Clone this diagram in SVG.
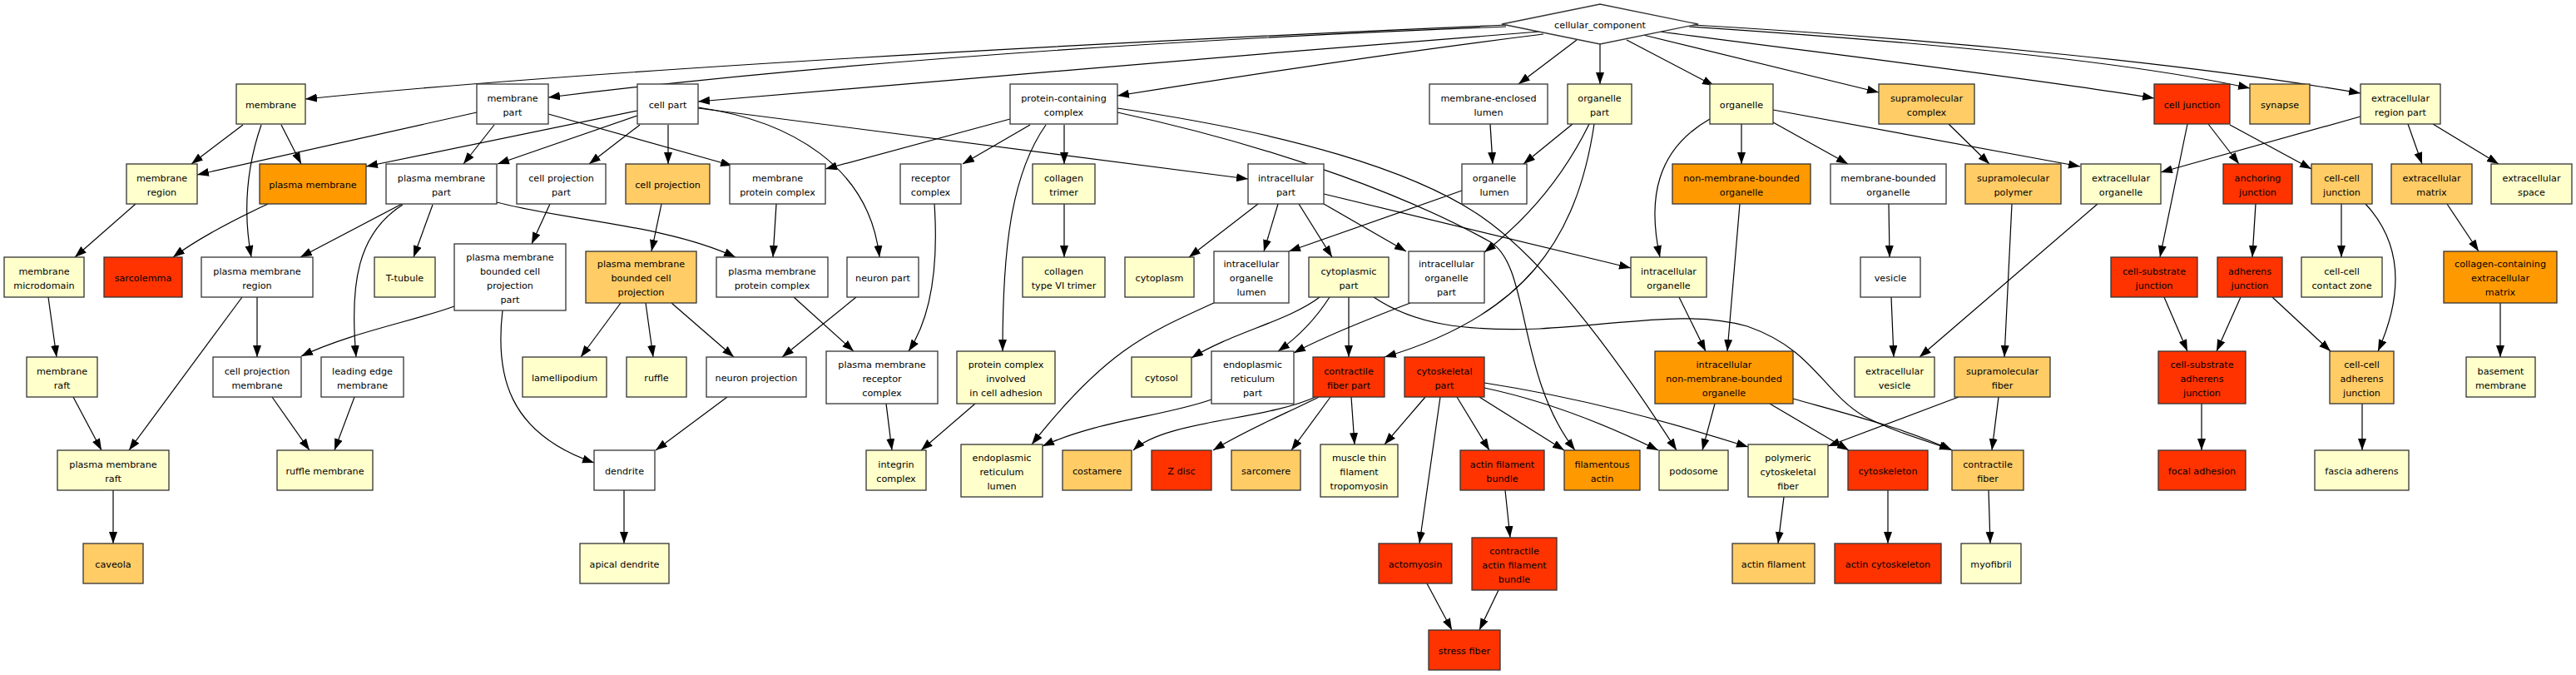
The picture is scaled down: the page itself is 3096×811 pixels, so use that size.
<svg xmlns="http://www.w3.org/2000/svg" width="3096" height="811" viewBox="0 0 3096 811">
<style>
.n rect,.n polygon{stroke:#333;stroke-width:1.3}
.w{fill:#fff}.ly{fill:#ffffcc}.lo{fill:#ffcc66}.or{fill:#ff9900}.rd{fill:#ff3300}
text{font-family:"DejaVu Sans","Liberation Sans",sans-serif;font-size:11.2px;text-anchor:middle;fill:#000}
#edges path{fill:none;stroke:#000;stroke-width:1.2;marker-end:url(#a)}
</style>
<defs>
<marker id="a" markerUnits="userSpaceOnUse" markerWidth="15" markerHeight="11" refX="14" refY="5" orient="auto"><path d="M0,0 L14,5 L0,10 z" fill="#000" stroke="none"/></marker>
</defs>
<rect x="0" y="0" width="3096" height="811" fill="#fff"/>
<g id="edges">
<path d="M1810,30 C1300,52 700,85 367,119"/>
<path d="M1810,32 C1400,48 1000,75 659,117"/>
<path d="M1850,38 C1500,65 1100,100 839,122"/>
<path d="M1855,41 C1700,60 1500,90 1343,115"/>
<path d="M1895,48 L1825,101"/>
<path d="M1923,53 L1923,101"/>
<path d="M1955,48 L2060,103"/>
<path d="M1975,42 L2258,111"/>
<path d="M1995,38 C2200,65 2450,95 2589,118"/>
<path d="M2030,32 C2300,50 2550,72 2704,106"/>
<path d="M2035,30 C2350,48 2650,80 2837,112"/>
<path d="M292,150 L230,197"/>
<path d="M314,150 C295,205 293,260 302,309"/>
<path d="M338,150 L362,197"/>
<path d="M573,135 L237,210"/>
<path d="M594,150 L557,197"/>
<path d="M659,137 L880,199"/>
<path d="M766,133 L440,200"/>
<path d="M766,139 L598,197"/>
<path d="M769,150 L708,197"/>
<path d="M803,150 L803,197"/>
<path d="M839,130 L1500,215"/>
<path d="M839,129 C950,145 1045,200 1057,309"/>
<path d="M1214,143 L992,203"/>
<path d="M1238,150 L1157,197"/>
<path d="M1279,150 L1279,197"/>
<path d="M1257,150 C1215,210 1205,300 1205,422"/>
<path d="M1343,130 C1550,160 1700,205 1780,260 C1860,315 1950,440 2015,541"/>
<path d="M1343,135 C1550,180 1700,240 1790,290 C1840,318 1822,450 1893,541"/>
<path d="M1791,149 L1794,197"/>
<path d="M1890,149 L1831,197"/>
<path d="M1910,149 C1880,210 1840,260 1784,303"/>
<path d="M1916,149 C1895,290 1830,380 1664,429"/>
<path d="M2093,149 L2093,197"/>
<path d="M2131,147 L2221,197"/>
<path d="M2131,132 L2500,200"/>
<path d="M2055,143 C1990,180 1980,240 1995,309"/>
<path d="M2342,149 L2391,197"/>
<path d="M2629,149 L2596,309"/>
<path d="M2654,149 L2691,197"/>
<path d="M2680,150 L2778,203"/>
<path d="M2837,140 L2597,207"/>
<path d="M2894,149 L2911,197"/>
<path d="M2924,149 L3003,197"/>
<path d="M163,245 L90,309"/>
<path d="M322,245 C290,260 240,285 208,309"/>
<path d="M483,245 L361,309"/>
<path d="M520,246 L497,309"/>
<path d="M484,246 C430,280 420,340 428,429"/>
<path d="M597,243 C680,265 800,270 884,309"/>
<path d="M661,245 L639,293"/>
<path d="M795,245 L783,302"/>
<path d="M933,245 L929,309"/>
<path d="M1123,245 C1128,320 1120,380 1092,422"/>
<path d="M1279,245 L1279,309"/>
<path d="M1512,245 L1429,309"/>
<path d="M1536,245 L1519,302"/>
<path d="M1561,245 L1601,309"/>
<path d="M1591,245 L1690,302"/>
<path d="M1591,233 L1960,322"/>
<path d="M1757,229 L1549,302"/>
<path d="M2091,245 L2076,422"/>
<path d="M2270,245 L2271,309"/>
<path d="M2418,245 L2409,429"/>
<path d="M2521,245 L2307,429"/>
<path d="M2711,245 L2707,309"/>
<path d="M2814,245 L2814,309"/>
<path d="M2843,245 C2885,290 2890,350 2858,422"/>
<path d="M2941,245 L2979,302"/>
<path d="M58,357 L68,429"/>
<path d="M309,357 L309,429"/>
<path d="M291,357 L155,541"/>
<path d="M546,368 C500,385 420,400 362,428"/>
<path d="M604,373 C595,450 610,520 714,556"/>
<path d="M746,364 L698,429"/>
<path d="M776,364 L785,429"/>
<path d="M807,364 L882,429"/>
<path d="M954,357 L1026,422"/>
<path d="M1029,357 L940,429"/>
<path d="M1459,364 C1380,400 1330,420 1240,534"/>
<path d="M1586,357 C1550,385 1480,400 1432,430"/>
<path d="M1598,357 C1580,385 1560,405 1536,422"/>
<path d="M1695,364 C1640,385 1590,405 1555,424"/>
<path d="M1621,357 L1621,429"/>
<path d="M1651,357 C1700,390 1760,398 1850,395 C1950,390 2030,372 2100,392 C2180,420 2190,470 2240,500 C2280,520 2310,528 2345,540"/>
<path d="M2018,357 L2050,422"/>
<path d="M2273,357 L2276,429"/>
<path d="M2601,357 L2629,422"/>
<path d="M2693,357 L2664,422"/>
<path d="M2731,357 L2801,422"/>
<path d="M3005,364 L3005,429"/>
<path d="M88,477 L122,541"/>
<path d="M327,477 L372,541"/>
<path d="M426,477 L402,541"/>
<path d="M874,477 L788,541"/>
<path d="M1065,485 L1072,541"/>
<path d="M1172,485 L1107,541"/>
<path d="M1456,480 C1400,500 1320,505 1253,536"/>
<path d="M1581,477 C1520,505 1400,505 1362,541"/>
<path d="M1585,477 C1550,495 1500,515 1458,541"/>
<path d="M1599,477 L1552,541"/>
<path d="M1624,477 L1628,534"/>
<path d="M1713,477 L1664,534"/>
<path d="M1731,477 L1706,653"/>
<path d="M1751,477 L1790,541"/>
<path d="M1778,477 L1880,541"/>
<path d="M1784,466 C1850,480 1920,505 1993,541"/>
<path d="M1784,460 C1900,478 2000,505 2101,537"/>
<path d="M2061,485 L2046,541"/>
<path d="M2127,485 L2222,541"/>
<path d="M2155,479 C2230,500 2290,515 2346,541"/>
<path d="M2354,477 L2197,536"/>
<path d="M2402,477 L2394,541"/>
<path d="M2646,485 L2646,541"/>
<path d="M2839,485 L2839,541"/>
<path d="M136,589 L136,653"/>
<path d="M750,589 L750,653"/>
<path d="M1809,589 L1815,646"/>
<path d="M2144,597 L2137,653"/>
<path d="M2269,589 L2269,653"/>
<path d="M2390,589 L2392,653"/>
<path d="M1715,701 L1745,757"/>
<path d="M1801,709 L1778,757"/>
</g>
<g class="n">
<g id="n_root"><polygon class="w" points="1805,29 1923,5 2041,29 1923,53"/><text x="1923" y="34">cellular_component</text></g>
<g id="n_membrane"><rect class="ly" x="284" y="101" width="83" height="48"/><text x="325.5" y="130">membrane</text></g>
<g id="n_membrane_part"><rect class="w" x="573" y="101" width="86" height="48"/><text x="616" y="121.5">membrane</text><text x="616" y="138.5">part</text></g>
<g id="n_cell_part"><rect class="w" x="766" y="101" width="73" height="48"/><text x="802.5" y="130">cell part</text></g>
<g id="n_pcc"><rect class="w" x="1214" y="101" width="129" height="48"/><text x="1278.5" y="121.5">protein-containing</text><text x="1278.5" y="138.5">complex</text></g>
<g id="n_mel"><rect class="w" x="1718" y="101" width="142" height="48"/><text x="1789" y="121.5">membrane-enclosed</text><text x="1789" y="138.5">lumen</text></g>
<g id="n_organelle_part"><rect class="ly" x="1884" y="101" width="77" height="48"/><text x="1922.5" y="121.5">organelle</text><text x="1922.5" y="138.5">part</text></g>
<g id="n_organelle"><rect class="ly" x="2055" y="101" width="76" height="48"/><text x="2093" y="130">organelle</text></g>
<g id="n_supcomplex"><rect class="lo" x="2258" y="101" width="115" height="48"/><text x="2315.5" y="121.5">supramolecular</text><text x="2315.5" y="138.5">complex</text></g>
<g id="n_cell_junction"><rect class="rd" x="2589" y="101" width="91" height="48"/><text x="2634.5" y="130">cell junction</text></g>
<g id="n_synapse"><rect class="lo" x="2704" y="101" width="72" height="48"/><text x="2740" y="130">synapse</text></g>
<g id="n_erp"><rect class="ly" x="2837" y="101" width="96" height="48"/><text x="2885" y="121.5">extracellular</text><text x="2885" y="138.5">region part</text></g>
<g id="n_membrane_region"><rect class="ly" x="152" y="197" width="85" height="48"/><text x="194.5" y="217.5">membrane</text><text x="194.5" y="234.5">region</text></g>
<g id="n_plasma_membrane"><rect class="or" x="312" y="197" width="128" height="48"/><text x="376" y="226">plasma membrane</text></g>
<g id="n_pm_part"><rect class="w" x="464" y="197" width="133" height="48"/><text x="530.5" y="217.5">plasma membrane</text><text x="530.5" y="234.5">part</text></g>
<g id="n_cp_part"><rect class="w" x="621" y="197" width="107" height="48"/><text x="674.5" y="217.5">cell projection</text><text x="674.5" y="234.5">part</text></g>
<g id="n_cell_projection"><rect class="lo" x="752" y="197" width="101" height="48"/><text x="802.5" y="226">cell projection</text></g>
<g id="n_mpc"><rect class="w" x="877" y="197" width="115" height="48"/><text x="934.5" y="217.5">membrane</text><text x="934.5" y="234.5">protein complex</text></g>
<g id="n_receptor_complex"><rect class="w" x="1082" y="197" width="73" height="48"/><text x="1118.5" y="217.5">receptor</text><text x="1118.5" y="234.5">complex</text></g>
<g id="n_collagen_trimer"><rect class="ly" x="1241" y="197" width="75" height="48"/><text x="1278.5" y="217.5">collagen</text><text x="1278.5" y="234.5">trimer</text></g>
<g id="n_intracellular_part"><rect class="w" x="1500" y="197" width="91" height="48"/><text x="1545.5" y="217.5">intracellular</text><text x="1545.5" y="234.5">part</text></g>
<g id="n_organelle_lumen"><rect class="w" x="1757" y="197" width="78" height="48"/><text x="1796" y="217.5">organelle</text><text x="1796" y="234.5">lumen</text></g>
<g id="n_nmbo"><rect class="or" x="2010" y="197" width="166" height="48"/><text x="2093" y="217.5">non-membrane-bounded</text><text x="2093" y="234.5">organelle</text></g>
<g id="n_mbo"><rect class="w" x="2200" y="197" width="139" height="48"/><text x="2269.5" y="217.5">membrane-bounded</text><text x="2269.5" y="234.5">organelle</text></g>
<g id="n_suppolymer"><rect class="lo" x="2362" y="197" width="115" height="48"/><text x="2419.5" y="217.5">supramolecular</text><text x="2419.5" y="234.5">polymer</text></g>
<g id="n_ext_organelle"><rect class="ly" x="2501" y="197" width="96" height="48"/><text x="2549" y="217.5">extracellular</text><text x="2549" y="234.5">organelle</text></g>
<g id="n_anchoring_junction"><rect class="rd" x="2672" y="197" width="83" height="48"/><text x="2713.5" y="217.5">anchoring</text><text x="2713.5" y="234.5">junction</text></g>
<g id="n_cc_junction"><rect class="lo" x="2778" y="197" width="73" height="48"/><text x="2814.5" y="217.5">cell-cell</text><text x="2814.5" y="234.5">junction</text></g>
<g id="n_ecm"><rect class="lo" x="2874" y="197" width="97" height="48"/><text x="2922.5" y="217.5">extracellular</text><text x="2922.5" y="234.5">matrix</text></g>
<g id="n_ext_space"><rect class="ly" x="2994" y="197" width="97" height="48"/><text x="3042.5" y="217.5">extracellular</text><text x="3042.5" y="234.5">space</text></g>
<g id="n_microdomain"><rect class="ly" x="5" y="309" width="96" height="48"/><text x="53" y="329.5">membrane</text><text x="53" y="346.5">microdomain</text></g>
<g id="n_sarcolemma"><rect class="rd" x="125" y="309" width="94" height="48"/><text x="172" y="338">sarcolemma</text></g>
<g id="n_pm_region"><rect class="w" x="242" y="309" width="134" height="48"/><text x="309" y="329.5">plasma membrane</text><text x="309" y="346.5">region</text></g>
<g id="n_ttubule"><rect class="ly" x="450" y="309" width="73" height="48"/><text x="486.5" y="338">T-tubule</text></g>
<g id="n_pmbcpp"><rect class="w" x="546" y="293" width="134" height="80"/><text x="613" y="312.5">plasma membrane</text><text x="613" y="329.5">bounded cell</text><text x="613" y="346.5">projection</text><text x="613" y="363.5">part</text></g>
<g id="n_pmbcp"><rect class="lo" x="704" y="302" width="133" height="62"/><text x="770.5" y="321">plasma membrane</text><text x="770.5" y="338">bounded cell</text><text x="770.5" y="355">projection</text></g>
<g id="n_pmpc"><rect class="w" x="861" y="309" width="134" height="48"/><text x="928" y="329.5">plasma membrane</text><text x="928" y="346.5">protein complex</text></g>
<g id="n_neuron_part"><rect class="w" x="1018" y="309" width="86" height="48"/><text x="1061" y="338">neuron part</text></g>
<g id="n_collagen6"><rect class="ly" x="1229" y="309" width="99" height="48"/><text x="1278.5" y="329.5">collagen</text><text x="1278.5" y="346.5">type VI trimer</text></g>
<g id="n_cytoplasm"><rect class="ly" x="1352" y="309" width="83" height="48"/><text x="1393.5" y="338">cytoplasm</text></g>
<g id="n_iol"><rect class="w" x="1459" y="302" width="90" height="62"/><text x="1504" y="321">intracellular</text><text x="1504" y="338">organelle</text><text x="1504" y="355">lumen</text></g>
<g id="n_cytoplasmic_part"><rect class="ly" x="1573" y="309" width="96" height="48"/><text x="1621" y="329.5">cytoplasmic</text><text x="1621" y="346.5">part</text></g>
<g id="n_iop"><rect class="w" x="1693" y="302" width="91" height="62"/><text x="1738.5" y="321">intracellular</text><text x="1738.5" y="338">organelle</text><text x="1738.5" y="355">part</text></g>
<g id="n_intra_organelle"><rect class="ly" x="1960" y="309" width="91" height="48"/><text x="2005.5" y="329.5">intracellular</text><text x="2005.5" y="346.5">organelle</text></g>
<g id="n_vesicle"><rect class="w" x="2236" y="309" width="72" height="48"/><text x="2272" y="338">vesicle</text></g>
<g id="n_csj"><rect class="rd" x="2537" y="309" width="104" height="48"/><text x="2589" y="329.5">cell-substrate</text><text x="2589" y="346.5">junction</text></g>
<g id="n_adherens"><rect class="rd" x="2665" y="309" width="78" height="48"/><text x="2704" y="329.5">adherens</text><text x="2704" y="346.5">junction</text></g>
<g id="n_cccz"><rect class="ly" x="2766" y="309" width="97" height="48"/><text x="2814.5" y="329.5">cell-cell</text><text x="2814.5" y="346.5">contact zone</text></g>
<g id="n_ccecm"><rect class="or" x="2937" y="302" width="136" height="62"/><text x="3005" y="321">collagen-containing</text><text x="3005" y="338">extracellular</text><text x="3005" y="355">matrix</text></g>
<g id="n_membrane_raft"><rect class="ly" x="32" y="429" width="85" height="48"/><text x="74.5" y="449.5">membrane</text><text x="74.5" y="466.5">raft</text></g>
<g id="n_cpm"><rect class="w" x="256" y="429" width="106" height="48"/><text x="309" y="449.5">cell projection</text><text x="309" y="466.5">membrane</text></g>
<g id="n_lem"><rect class="w" x="386" y="429" width="99" height="48"/><text x="435.5" y="449.5">leading edge</text><text x="435.5" y="466.5">membrane</text></g>
<g id="n_lamellipodium"><rect class="ly" x="628" y="429" width="101" height="48"/><text x="678.5" y="458">lamellipodium</text></g>
<g id="n_ruffle"><rect class="ly" x="753" y="429" width="72" height="48"/><text x="789" y="458">ruffle</text></g>
<g id="n_neuron_projection"><rect class="w" x="849" y="429" width="120" height="48"/><text x="909" y="458">neuron projection</text></g>
<g id="n_pmrc"><rect class="w" x="993" y="422" width="134" height="63"/><text x="1060" y="441.5">plasma membrane</text><text x="1060" y="458.5">receptor</text><text x="1060" y="475.5">complex</text></g>
<g id="n_pcica"><rect class="ly" x="1150" y="422" width="118" height="63"/><text x="1209" y="441.5">protein complex</text><text x="1209" y="458.5">involved</text><text x="1209" y="475.5">in cell adhesion</text></g>
<g id="n_cytosol"><rect class="ly" x="1360" y="429" width="72" height="48"/><text x="1396" y="458">cytosol</text></g>
<g id="n_er_part"><rect class="w" x="1456" y="422" width="99" height="63"/><text x="1505.5" y="441.5">endoplasmic</text><text x="1505.5" y="458.5">reticulum</text><text x="1505.5" y="475.5">part</text></g>
<g id="n_cfp"><rect class="rd" x="1578" y="429" width="86" height="48"/><text x="1621" y="449.5">contractile</text><text x="1621" y="466.5">fiber part</text></g>
<g id="n_cytoskeletal_part"><rect class="rd" x="1688" y="429" width="96" height="48"/><text x="1736" y="449.5">cytoskeletal</text><text x="1736" y="466.5">part</text></g>
<g id="n_inmbo"><rect class="or" x="1989" y="422" width="166" height="63"/><text x="2072" y="441.5">intracellular</text><text x="2072" y="458.5">non-membrane-bounded</text><text x="2072" y="475.5">organelle</text></g>
<g id="n_ev"><rect class="ly" x="2229" y="429" width="96" height="48"/><text x="2277" y="449.5">extracellular</text><text x="2277" y="466.5">vesicle</text></g>
<g id="n_supfiber"><rect class="lo" x="2349" y="429" width="115" height="48"/><text x="2406.5" y="449.5">supramolecular</text><text x="2406.5" y="466.5">fiber</text></g>
<g id="n_csaj"><rect class="rd" x="2594" y="422" width="105" height="63"/><text x="2646.5" y="441.5">cell-substrate</text><text x="2646.5" y="458.5">adherens</text><text x="2646.5" y="475.5">junction</text></g>
<g id="n_ccaj"><rect class="lo" x="2800" y="422" width="77" height="63"/><text x="2838.5" y="441.5">cell-cell</text><text x="2838.5" y="458.5">adherens</text><text x="2838.5" y="475.5">junction</text></g>
<g id="n_basement"><rect class="ly" x="2964" y="429" width="83" height="48"/><text x="3005.5" y="449.5">basement</text><text x="3005.5" y="466.5">membrane</text></g>
<g id="n_pm_raft"><rect class="ly" x="69" y="541" width="134" height="48"/><text x="136" y="561.5">plasma membrane</text><text x="136" y="578.5">raft</text></g>
<g id="n_ruffle_membrane"><rect class="ly" x="333" y="541" width="115" height="48"/><text x="390.5" y="570">ruffle membrane</text></g>
<g id="n_dendrite"><rect class="w" x="714" y="541" width="73" height="48"/><text x="750.5" y="570">dendrite</text></g>
<g id="n_integrin"><rect class="ly" x="1041" y="541" width="72" height="48"/><text x="1077" y="561.5">integrin</text><text x="1077" y="578.5">complex</text></g>
<g id="n_er_lumen"><rect class="ly" x="1155" y="534" width="98" height="63"/><text x="1204" y="553.5">endoplasmic</text><text x="1204" y="570.5">reticulum</text><text x="1204" y="587.5">lumen</text></g>
<g id="n_costamere"><rect class="lo" x="1277" y="541" width="83" height="48"/><text x="1318.5" y="570">costamere</text></g>
<g id="n_zdisc"><rect class="rd" x="1384" y="541" width="72" height="48"/><text x="1420" y="570">Z disc</text></g>
<g id="n_sarcomere"><rect class="lo" x="1480" y="541" width="83" height="48"/><text x="1521.5" y="570">sarcomere</text></g>
<g id="n_mtft"><rect class="ly" x="1587" y="534" width="93" height="63"/><text x="1633.5" y="553.5">muscle thin</text><text x="1633.5" y="570.5">filament</text><text x="1633.5" y="587.5">tropomyosin</text></g>
<g id="n_afb"><rect class="rd" x="1755" y="541" width="101" height="48"/><text x="1805.5" y="561.5">actin filament</text><text x="1805.5" y="578.5">bundle</text></g>
<g id="n_factin"><rect class="or" x="1880" y="541" width="91" height="48"/><text x="1925.5" y="561.5">filamentous</text><text x="1925.5" y="578.5">actin</text></g>
<g id="n_podosome"><rect class="ly" x="1994" y="541" width="83" height="48"/><text x="2035.5" y="570">podosome</text></g>
<g id="n_pcf"><rect class="ly" x="2101" y="534" width="96" height="63"/><text x="2149" y="553.5">polymeric</text><text x="2149" y="570.5">cytoskeletal</text><text x="2149" y="587.5">fiber</text></g>
<g id="n_cytoskeleton"><rect class="rd" x="2221" y="541" width="96" height="48"/><text x="2269" y="570">cytoskeleton</text></g>
<g id="n_cfiber"><rect class="lo" x="2346" y="541" width="86" height="48"/><text x="2389" y="561.5">contractile</text><text x="2389" y="578.5">fiber</text></g>
<g id="n_focal"><rect class="rd" x="2594" y="541" width="105" height="48"/><text x="2646.5" y="570">focal adhesion</text></g>
<g id="n_fascia"><rect class="ly" x="2782" y="541" width="113" height="48"/><text x="2838.5" y="570">fascia adherens</text></g>
<g id="n_caveola"><rect class="lo" x="100" y="653" width="72" height="48"/><text x="136" y="682">caveola</text></g>
<g id="n_apical"><rect class="ly" x="697" y="653" width="107" height="48"/><text x="750.5" y="682">apical dendrite</text></g>
<g id="n_actomyosin"><rect class="rd" x="1657" y="653" width="88" height="48"/><text x="1701" y="682">actomyosin</text></g>
<g id="n_cafb"><rect class="rd" x="1769" y="646" width="102" height="63"/><text x="1820" y="665.5">contractile</text><text x="1820" y="682.5">actin filament</text><text x="1820" y="699.5">bundle</text></g>
<g id="n_actin_filament"><rect class="lo" x="2082" y="653" width="99" height="48"/><text x="2131.5" y="682">actin filament</text></g>
<g id="n_actin_cytoskeleton"><rect class="rd" x="2205" y="653" width="128" height="48"/><text x="2269" y="682">actin cytoskeleton</text></g>
<g id="n_myofibril"><rect class="ly" x="2357" y="653" width="72" height="48"/><text x="2393" y="682">myofibril</text></g>
<g id="n_stress_fiber"><rect class="rd" x="1717" y="757" width="86" height="48"/><text x="1760" y="786">stress fiber</text></g>
</g>
</svg>
